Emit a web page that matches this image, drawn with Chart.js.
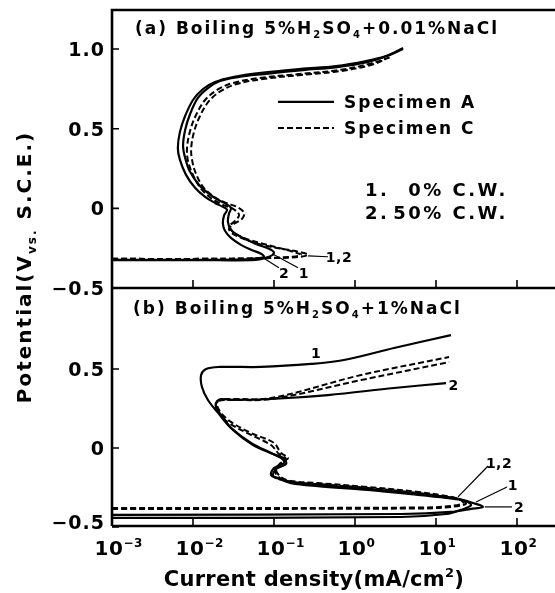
<!DOCTYPE html>
<html>
<head>
<meta charset="utf-8">
<title>Polarization curves</title>
<script src="https://cdn.jsdelivr.net/npm/chart.js@4.4.0/dist/chart.umd.min.js"></script>
<style>
  html, body { margin: 0; padding: 0; background: #fff; overflow: hidden; }
  /* canvas is a bit wider than the window so the frame runs off the right edge like the scan */
  #wrap { position: relative; width: 598px; height: 593px; }
</style>
</head>
<body>
<div id="wrap"><canvas id="polar" width="598" height="593"></canvas></div>
<script>
// ---------- data: current density (mA/cm2) and potential (V vs SCE) ----------

// (a) boiling 5% H2SO4 + 0.01% NaCl
const aSolid1I = [0.001,0.0126,0.06,0.0867,0.1,0.0867,0.06,0.0391,0.0294,0.027,0.0278,0.0294,0.0255,0.0204,0.0158,0.0119,0.0092,0.008,0.00754,0.008,0.0092,0.0115,0.0153,0.0215,0.036,0.0753,0.228,0.6,1.41,2.48,3.92];
const aSolid1V = [-0.325,-0.325,-0.323,-0.304,-0.279,-0.254,-0.223,-0.179,-0.135,-0.085,-0.034,0.003,0.028,0.053,0.091,0.147,0.229,0.317,0.392,0.492,0.592,0.693,0.755,0.799,0.824,0.843,0.868,0.887,0.918,0.956,1.0];
const aSolid2I = [0.001,0.0126,0.0451,0.0653,0.0753,0.0692,0.052,0.0391,0.0294,0.0248,0.0234,0.0241,0.0263,0.0234,0.0187,0.0141,0.0106,0.0082,0.0069,0.0065,0.0069,0.008,0.01,0.0133,0.0187,0.0312,0.0692,0.215,0.582,1.37,2.41,3.92];
const aSolid2V = [-0.323,-0.323,-0.320,-0.313,-0.304,-0.285,-0.260,-0.229,-0.185,-0.141,-0.097,-0.047,-0.009,0.009,0.034,0.072,0.129,0.210,0.304,0.379,0.480,0.580,0.680,0.749,0.793,0.824,0.850,0.875,0.893,0.925,0.956,1.006];
const aDash1I = [0.001,0.0126,0.0692,0.187,0.263,0.215,0.149,0.0796,0.0451,0.0312,0.0278,0.0321,0.0403,0.0427,0.0349,0.0255,0.0182,0.0133,0.0109,0.00973,0.0095,0.0103,0.0122,0.0158,0.0222,0.0349,0.0731,0.215,0.671,1.58,2.41];
const aDash1V = [-0.317,-0.317,-0.313,-0.307,-0.292,-0.276,-0.260,-0.235,-0.197,-0.160,-0.129,-0.097,-0.066,-0.028,0.009,0.034,0.072,0.135,0.216,0.304,0.379,0.480,0.580,0.674,0.737,0.781,0.812,0.837,0.862,0.900,0.937];
const aDash2I = [0.001,0.0126,0.0692,0.162,0.215,0.172,0.115,0.0653,0.0391,0.0303,0.0286,0.0331,0.037,0.0312,0.0234,0.0172,0.0126,0.01,0.00867,0.00844,0.0092,0.0109,0.0141,0.0198,0.0312,0.0653,0.204,0.634,1.49,2.78];
const aDash2V = [-0.317,-0.317,-0.313,-0.304,-0.292,-0.273,-0.248,-0.216,-0.179,-0.141,-0.110,-0.078,-0.041,-0.003,0.022,0.060,0.122,0.210,0.298,0.379,0.486,0.586,0.680,0.743,0.787,0.818,0.843,0.868,0.906,0.950];

// (b) boiling 5% H2SO4 + 1% NaCl
const bSolid1I = [0.001,3.70,13.3,20.4,27.1,21.5,13.3,6.0,1.45,0.349,0.162,0.112,0.0919,0.1,0.133,0.122,0.0919,0.052,0.0294,0.0204,0.0153,0.0129,0.0126,0.0145,0.021,0.0692,0.286,0.731,3.03,15.3];
const bSolid1V = [-0.443,-0.437,-0.418,-0.392,-0.361,-0.329,-0.310,-0.291,-0.259,-0.234,-0.215,-0.190,-0.171,-0.127,-0.095,-0.063,-0.032,0.032,0.127,0.222,0.304,0.386,0.462,0.500,0.513,0.513,0.532,0.557,0.633,0.715];
const bSolid2I = [0.001,3.70,15.3,27.1,38.0,28.6,20.4,13.3,6.0,1.45,0.349,0.162,0.115,0.0972,0.106,0.141,0.129,0.0972,0.0551,0.0312,0.0222,0.0192,0.0198,0.0228,0.0294,0.0919,0.464,3.03,13.3];
const bSolid2V = [-0.424,-0.418,-0.405,-0.386,-0.373,-0.348,-0.329,-0.316,-0.297,-0.266,-0.241,-0.222,-0.196,-0.177,-0.133,-0.101,-0.063,-0.038,0.019,0.114,0.209,0.259,0.297,0.310,0.304,0.310,0.335,0.380,0.411];
const bDash1I = [0.001,6.53,15.3,21.5,19.2,13.3,6.0,1.45,0.349,0.162,0.122,0.106,0.122,0.149,0.122,0.1,0.052,0.0294,0.0222,0.0198,0.021,0.0278,0.0919,1.19,14.5];
const bDash1V = [-0.380,-0.377,-0.367,-0.348,-0.323,-0.304,-0.278,-0.247,-0.222,-0.209,-0.184,-0.139,-0.095,-0.063,-0.032,0.032,0.095,0.165,0.222,0.272,0.304,0.310,0.316,0.462,0.576];
const bDash2I = [0.001,6.53,15.3,23.4,20.4,13.3,6.0,1.45,0.349,0.162,0.118,0.103,0.118,0.141,0.115,0.0919,0.0491,0.0278,0.0215,0.0192,0.0204,0.027,0.0919,1.19,14.5];
const bDash2V = [-0.386,-0.383,-0.373,-0.354,-0.329,-0.310,-0.285,-0.253,-0.228,-0.215,-0.190,-0.146,-0.101,-0.070,-0.038,0.019,0.089,0.158,0.215,0.266,0.297,0.304,0.310,0.430,0.544];

// tick values and labels
const xDecades = [0.001, 0.01, 0.1, 1, 10, 100, 1000];
const xExponents = ['−3', '−2', '−1', '0', '1', '2', '3'];
const yTicksA = [-0.5, 0, 0.5, 1.0];
const yTicksB = [-0.5, 0, 0.5];

// curve labels, anchored in data units: text position, leader line from/to
const notesA = [
  { text: '1,2', at: [0.634, -0.304], from: [0.263, -0.298], to: [0.464, -0.304] },
  { text: '2', at: [0.133, -0.404], from: [0.0731, -0.31], to: [0.115, -0.373] },
  { text: '1', at: [0.234, -0.404], from: [0.095, -0.285], to: [0.198, -0.373] }
];
const notesB = [
  { text: '1', at: [0.33, 0.60] },
  { text: '2', at: [16.5, 0.40] },
  { text: '1,2', at: [60, -0.095], from: [18.7, -0.31], to: [43.9, -0.114] },
  { text: '1', at: [89, -0.234], from: [31.2, -0.342], to: [75.3, -0.247] },
  { text: '2', at: [106, -0.373], from: [40, -0.373], to: [86.7, -0.373] }
];

const FONT = '"DejaVu Sans", "Liberation Sans", sans-serif';

function toPoints(iArr, vArr) {
  return iArr.map((x, k) => ({ x: x, y: vArr[k] }));
}

function curve(iArr, vArr, axis, dashed) {
  return {
    data: toPoints(iArr, vArr),
    yAxisID: axis,
    xAxisID: 'x',
    borderColor: '#000',
    borderWidth: dashed ? 2 : 2.2,
    borderDash: dashed ? [6, 3] : [],
    pointRadius: 0,
    fill: false,
    tension: 0.35
  };
}

// draws text made of pieces, some of them sub- or superscript
// y is the visual middle of the capitals
function drawRich(ctx, segs, x, y, size, ls, align) {
  const parts = segs.map(([t, kind]) => {
    const fs = kind ? Math.round(size * 0.6) : size;
    ctx.font = 'bold ' + fs + 'px ' + FONT;
    ctx.letterSpacing = ls + 'px';
    return { t: t, kind: kind, fs: fs, w: ctx.measureText(t).width };
  });
  const total = parts.reduce((s, p) => s + p.w, 0);
  let cx = align === 'center' ? x - total / 2 : (align === 'right' ? x - total : x);
  const base = y + size * 0.36;
  ctx.textAlign = 'left';
  ctx.textBaseline = 'alphabetic';
  for (const p of parts) {
    ctx.font = 'bold ' + p.fs + 'px ' + FONT;
    ctx.letterSpacing = ls + 'px';
    const dy = p.kind === 'sub' ? size * 0.22 : (p.kind === 'sup' ? -size * 0.42 : 0);
    ctx.fillText(p.t, cx, base + dy);
    cx += p.w;
  }
  return total;
}

function yLabel(v) {
  if (v === 0) return '0';
  return (v < 0 ? '−' : '') + Math.abs(v).toFixed(1);
}

// frame, inward ticks, tick labels, titles, legend and curve labels
const figurePlugin = {
  id: 'figure',
  afterDraw(chart) {
    const ctx = chart.ctx;
    const ca = chart.chartArea;
    const xs = chart.scales.x, ya = chart.scales.yA, yb = chart.scales.yB;
    ctx.save();
    ctx.strokeStyle = '#000';
    ctx.fillStyle = '#000';

    // frame
    ctx.lineWidth = 2.6;
    ctx.setLineDash([]);
    ctx.beginPath();
    ctx.moveTo(ca.left, ca.bottom);
    ctx.lineTo(ca.left, ca.top);
    ctx.lineTo(ca.right, ca.top);
    ctx.moveTo(ca.left, ya.bottom);
    ctx.lineTo(ca.right, ya.bottom);
    ctx.moveTo(ca.left, ca.bottom);
    ctx.lineTo(ca.right, ca.bottom);
    ctx.stroke();

    // inward ticks
    ctx.lineWidth = 1.6;
    ctx.beginPath();
    xDecades.forEach(v => {
      const px = xs.getPixelForValue(v);
      if (px <= ca.left + 2) return;
      ctx.moveTo(px, ya.bottom); ctx.lineTo(px, ya.bottom - 8);
      ctx.moveTo(px, ca.bottom); ctx.lineTo(px, ca.bottom - 8);
    });
    yTicksA.forEach(v => { const py = ya.getPixelForValue(v); ctx.moveTo(ca.left, py); ctx.lineTo(ca.left + 7, py); });
    yTicksB.forEach(v => { const py = yb.getPixelForValue(v); ctx.moveTo(ca.left, py); ctx.lineTo(ca.left + 7, py); });
    ctx.stroke();

    // y tick labels
    yTicksA.forEach(v => drawRich(ctx, [[yLabel(v), '']], ca.left - 7, ya.getPixelForValue(v), 19, 1, 'right'));
    yTicksB.forEach(v => drawRich(ctx, [[yLabel(v), '']], ca.left - 7, Math.min(yb.getPixelForValue(v), ca.bottom - 4), 19, 1, 'right'));

    // x tick labels: "10" just left of the tick, exponent after it
    xDecades.forEach((v, k) => {
      const px = xs.getPixelForValue(v);
      ctx.font = 'bold 20px ' + FONT;
      ctx.letterSpacing = '0.5px';
      const w10 = ctx.measureText('10').width;
      drawRich(ctx, [['10', ''], [xExponents[k], 'sup']], px - w10 / 2 - 3, 548, 20, 0.5, 'left');
    });

    // axis titles
    drawRich(ctx, [['Current density(mA/cm', ''], ['2', 'sup'], [')', '']], 314, 578, 21, 0.3, 'center');
    ctx.save();
    ctx.translate(24, 267);
    ctx.rotate(-Math.PI / 2);
    drawRich(ctx, [['Potential(V', ''], ['vs.', 'sub'], [' S.C.E.)', '']], 0, 0, 20, 2, 'center');
    ctx.restore();

    // panel titles
    drawRich(ctx, [['(a) Boiling 5%H', ''], ['2', 'sub'], ['SO', ''], ['4', 'sub'], ['+0.01%NaCl', '']],
      xs.getPixelForValue(0.00192), ya.getPixelForValue(1.132), 17, 2, 'left');
    drawRich(ctx, [['(b) Boiling 5%H', ''], ['2', 'sub'], ['SO', ''], ['4', 'sub'], ['+1%NaCl', '']],
      xs.getPixelForValue(0.00182), yb.getPixelForValue(0.886), 17, 2, 'left');

    // legend of panel (a)
    const lx0 = xs.getPixelForValue(0.112), lx1 = xs.getPixelForValue(0.551), tx = xs.getPixelForValue(0.731);
    const ly1 = ya.getPixelForValue(0.668), ly2 = ya.getPixelForValue(0.505);
    ctx.lineWidth = 2.2;
    ctx.beginPath(); ctx.moveTo(lx0, ly1); ctx.lineTo(lx1, ly1); ctx.stroke();
    ctx.setLineDash([6, 3]);
    ctx.lineWidth = 2;
    ctx.beginPath(); ctx.moveTo(lx0, ly2); ctx.lineTo(lx1, ly2); ctx.stroke();
    ctx.setLineDash([]);
    drawRich(ctx, [['Specimen A', '']], tx, ly1, 17, 2, 'left');
    drawRich(ctx, [['Specimen C', '']], tx, ly2, 17, 2, 'left');

    // cold work notes
    const nl = xs.getPixelForValue(1.33), nr = xs.getPixelForValue(77);
    [['1.', '0% C.W.', 0.116], ['2.', '50% C.W.', -0.028]].forEach(([n, t, v]) => {
      const py = ya.getPixelForValue(v);
      drawRich(ctx, [[n, '']], nl, py, 18, 2.5, 'left');
      drawRich(ctx, [[t, '']], nr, py, 18, 2.5, 'right');
    });

    // curve labels with leader lines
    ctx.lineWidth = 1.2;
    const drawNotes = (notes, ys) => notes.forEach(n => {
      if (n.from) {
        ctx.beginPath();
        ctx.moveTo(xs.getPixelForValue(n.from[0]), ys.getPixelForValue(n.from[1]));
        ctx.lineTo(xs.getPixelForValue(n.to[0]), ys.getPixelForValue(n.to[1]));
        ctx.stroke();
      }
      drawRich(ctx, [[n.text, '']], xs.getPixelForValue(n.at[0]), ys.getPixelForValue(n.at[1]), 14, 0.5, 'center');
    });
    drawNotes(notesA, ya);
    drawNotes(notesB, yb);

    ctx.restore();
  }
};

const hiddenAxis = { ticks: { display: false }, grid: { display: false }, border: { display: false } };

const chart = new Chart(document.getElementById('polar'), {
  type: 'line',
  data: {
    datasets: [
      curve(aSolid1I, aSolid1V, 'yA', false),
      curve(aSolid2I, aSolid2V, 'yA', false),
      curve(aDash1I, aDash1V, 'yA', true),
      curve(aDash2I, aDash2V, 'yA', true),
      curve(bSolid1I, bSolid1V, 'yB', false),
      curve(bSolid2I, bSolid2V, 'yB', false),
      curve(bDash1I, bDash1V, 'yB', true),
      curve(bDash2I, bDash2V, 'yB', true)
    ]
  },
  options: {
    responsive: false,
    animation: false,
    devicePixelRatio: 1,
    layout: { padding: { left: 0, right: 0, top: 10, bottom: 0 } },
    plugins: { legend: { display: false }, tooltip: { enabled: false } },
    scales: {
      x: Object.assign({ type: 'logarithmic', min: 0.001, max: 1000, afterFit: s => { s.height = 67; } }, hiddenAxis),
      // left boxes are stacked in reverse order, so the lower panel is listed first
      yB: Object.assign({ type: 'linear', position: 'left', stack: 'panels', stackWeight: 238, min: -0.494, max: 1.013,
        afterFit: s => { s.width = 112; } }, hiddenAxis),
      yA: Object.assign({ type: 'linear', position: 'left', stack: 'panels', stackWeight: 278, min: -0.5, max: 1.245,
        afterFit: s => { s.width = 112; } }, hiddenAxis)
    }
  },
  plugins: [figurePlugin]
});
</script>
</body>
</html>
